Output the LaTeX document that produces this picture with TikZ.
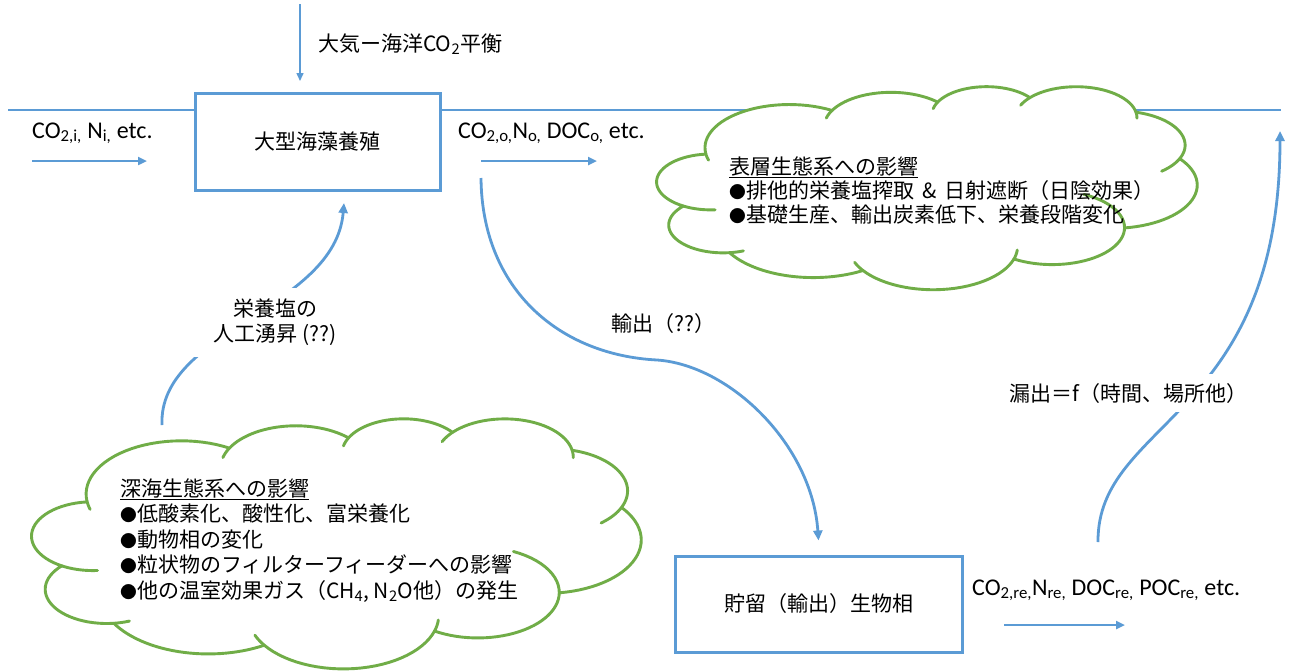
\documentclass[tikz,border=0pt]{standalone}
\usepackage{fontspec}
\setmainfont{Noto Sans CJK JP}
\newfontfamily\latinf{Carlito}
\usetikzlibrary{arrows.meta}
\definecolor{oblue}{HTML}{5B9BD5}
\definecolor{ogreen}{HTML}{70AD47}
\newcommand\jpf{\fontsize{21}{25}\selectfont}
\newcommand\latf{\latinf\fontsize{24}{28}\selectfont}
\newcommand\blt{\scalebox{0.8}{●}}
\makeatletter
% ---- Office-style cloud outline, normalised to a 100 x 100 box (y downwards) ----
\newcommand\cl@path{}
\newcommand\cl@hooks{}
\newcommand\clArc[5]{%
  \pgfmathsetmacro\cl@ts{atan2((#2)*sin(#4),(#3)*cos(#4))}%
  \pgfmathsetmacro\cl@te{atan2((#2)*sin((#4)+(#5)),(#3)*cos((#4)+(#5)))}%
  \pgfmathsetmacro\cl@dl{mod((\cl@te)-(\cl@ts)+720,360)}%
  \pgfmathsetmacro\cl@cx{(\cl@x)-(#2)*cos(\cl@ts)}%
  \pgfmathsetmacro\cl@cy{(\cl@y)-(#3)*sin(\cl@ts)}%
  \pgfmathsetmacro\cl@tend{(\cl@ts)+(\cl@dl)}%
  \expandafter\xdef\csname clC#1x\endcsname{\cl@cx}%
  \expandafter\xdef\csname clC#1y\endcsname{\cl@cy}%
  \expandafter\xdef\csname clC#1a\endcsname{#2}%
  \expandafter\xdef\csname clC#1b\endcsname{#3}%
  \edef\cl@seg{ -- plot[domain=\cl@ts:\cl@tend,samples=30,variable=\noexpand\t]({\cl@cx+(#2)*cos(\noexpand\t)},{\cl@cy+(#3)*sin(\noexpand\t)})}%
  \expandafter\g@addto@macro\expandafter\cl@path\expandafter{\cl@seg}%
  \pgfmathsetmacro\cl@nx{(\cl@cx)+(#2)*cos(\cl@tend)}%
  \pgfmathsetmacro\cl@ny{(\cl@cy)+(#3)*sin(\cl@tend)}%
  \global\let\cl@x\cl@nx \global\let\cl@y\cl@ny
}
\newcommand\clHook[3]{%
  \edef\cl@a{\csname clC#1a\endcsname}\edef\cl@b{\csname clC#1b\endcsname}%
  \edef\cl@hx{\csname clC#1x\endcsname}\edef\cl@hy{\csname clC#1y\endcsname}%
  \pgfmathsetmacro\cl@ts{atan2((\cl@a)*sin(#2),(\cl@b)*cos(#2))}%
  \pgfmathsetmacro\cl@te{atan2((\cl@a)*sin((#2)+(#3)),(\cl@b)*cos((#2)+(#3)))}%
  \pgfmathsetmacro\cl@dl{mod((\cl@te)-(\cl@ts)+720,360)}%
  \pgfmathsetmacro\cl@tend{(\cl@ts)+(\cl@dl)}%
  \edef\cl@seg{ plot[domain=\cl@ts:\cl@tend,samples=14,variable=\noexpand\t]({\cl@hx+\cl@a*cos(\noexpand\t)},{\cl@hy+\cl@b*sin(\noexpand\t)})}%
  \expandafter\g@addto@macro\expandafter\cl@hooks\expandafter{\cl@seg}%
}
\gdef\cl@x{9.0278}\gdef\cl@y{33.2639}
\xdef\cl@path{(\cl@x,\cl@y)}
\clArc{1}{15.6319}{21.2731}{-190.4875}{123.7805}
\clArc{2}{12.3449}{16.8218}{-144.1024}{89.9452}
\clArc{3}{10.1042}{13.7616}{-145.8079}{99.7230}
\clArc{4}{11.2431}{15.2662}{-130.9861}{117.2417}
\clArc{5}{12.3449}{16.8356}{-78.7089}{109.0269}
\clArc{6}{15.6829}{21.3426}{-46.2673}{130.2690}
\clArc{7}{13.3912}{18.2106}{0.6250}{114.0333}
\clArc{8}{15.6296}{21.3310}{22.4516}{115.1726}
\clArc{9}{17.8704}{24.4051}{66.2426}{75.7110}
\clArc{10}{10.0926}{13.6991}{-274.9421}{146.7356}
\clArc{11}{10.0579}{13.7616}{-246.8285}{152.5189}
\clHook{11}{86.7420}{26.4295}
\clHook{10}{73.6105}{11.4475}
\clHook{8}{137.6242}{14.0811}
\clHook{8}{6.4533}{15.9984}
\clHook{7}{-70.2924}{70.9174}
\clHook{5}{30.3180}{27.7515}
\clHook{4}{-13.7443}{14.8661}
\clHook{4}{-149.1815}{18.1954}
\clHook{3}{-163.4943}{17.6864}
\clHook{2}{-161.0}{16.9}
\clHook{1}{157.6544}{11.8582}
\newcommand\drawcloud[4]{%
  \begin{scope}[shift={(#1,#2)},xscale=#3/100,yscale=#4/100]
    \fill[white] \cl@path -- cycle;
    \draw[cloudline] \cl@path -- cycle;
    \draw[cloudline] \cl@hooks;
  \end{scope}}
\makeatother
\tikzset{
  boxnode/.style={draw=oblue, line width=3pt, fill=white, font=\jpf, inner sep=0pt},
  jtext/.style={font=\jpf, inner sep=0pt, anchor=base west},
  ltext/.style={font=\latf, inner sep=0pt, anchor=base west},
  cloudline/.style={draw=ogreen, line width=2.9pt, line cap=round, line join=round},
  sealine/.style={draw=oblue, line width=1.1pt},
  flowthin/.style={draw=oblue, line width=1.5pt, -{Triangle[length=8pt,width=7pt]}},
  flowline/.style={draw=oblue, line width=2.3pt, -{Triangle[length=9pt,width=8pt]}},
  flowcurve/.style={draw=oblue, line width=2.8pt, -{Triangle[length=10pt,width=9pt]}},
}
\begin{document}
\begin{tikzpicture}[x=1pt,y=-1pt]
\useasboundingbox (0,0) rectangle (1298,670);
\fill[white] (0,0) rectangle (1298,670);
% sea surface
\coordinate (sea0) at (8,110);
\coordinate (sea1) at (1281,110);
\draw[sealine] (sea0) -- (sea1);
% clouds
\drawcloud{657}{86}{540}{203}
\drawcloud{32}{418}{609}{250}
% boxes
\node[boxnode, minimum width=245pt, minimum height=97pt] (farm) at (317.5,141.5) {大型海藻養殖};
\node[boxnode, minimum width=287pt, minimum height=96pt] (store) at (818.5,604) {貯留（輸出）生物相};
% atmosphere exchange
\coordinate (atm0) at (300,4);
\coordinate (atm1) at (300,81);
\draw[flowthin] (atm0) -- (atm1);
\node[jtext] (atmlab) at (318,51) {大気ー海洋CO\textsubscript{2}平衡};
% inflow / outflow
\coordinate (in0) at (32,161);
\coordinate (in1) at (147,161);
\draw[flowline] (in0) -- (in1);
\node[ltext] (inlab) at (32,138) {CO\textsubscript{2,i,} N\textsubscript{i,} etc.};
\coordinate (out0) at (481,161);
\coordinate (out1) at (597,161);
\draw[flowline] (out0) -- (out1);
\node[ltext] (outlab) at (458,138) {CO\textsubscript{2,o,}N\textsubscript{o,} DOC\textsubscript{o,} etc.};
\coordinate (re0) at (1004,625);
\coordinate (re1) at (1125,625);
\draw[flowline] (re0) -- (re1);
\node[ltext] (relab) at (972,595) {CO\textsubscript{2,re,}N\textsubscript{re,} DOC\textsubscript{re,} POC\textsubscript{re,} etc.};
% export
\coordinate (exp0) at (481,178);
\coordinate (exp1) at ([yshift=14pt]store.north);
\draw[flowcurve] (exp0) .. controls (482,290) and (560,355) .. (657,360)
  .. controls (730,365) and (812,445) .. (exp1);
\node[jtext] (explab) at (611,331) {輸出（??）};
% upwelling
\coordinate (up0) at (162,425);
\coordinate (up1) at (344,203);
\draw[flowcurve] (up0) .. controls (158,330) and (335,310) .. (up1);
\node[font=\jpf, fill=white, align=center, minimum width=170pt, minimum height=69pt, inner sep=0pt] (uplab) at (275,322) {栄養塩の\\人工湧昇 (??)};
% leakage
\coordinate (lk0) at (1098,542);
\coordinate (lk1) at (1280,131);
\draw[flowcurve] (lk0) .. controls (1097,420) and (1280,420) .. (lk1);
\node[jtext, fill=white, inner xsep=6pt, inner ysep=9pt] (lklab) at (1003,401) {漏出＝f（時間、場所他）};
% cloud texts
\node[jtext] (s0) at (729,174) {\underline{表層生態系への影響}};
\node[jtext] (s1) at (729,198) {\blt 排他的栄養塩搾取 \,\&\, 日射遮断（日陰効果）};
\node[jtext] (s2) at (729,222) {\blt 基礎生産、輸出炭素低下、栄養段階変化};
\node[jtext] (d0) at (120,496) {\underline{深海生態系への影響}};
\node[jtext] (d1) at (120,521.5) {\blt 低酸素化、酸性化、富栄養化};
\node[jtext] (d2) at (120,547) {\blt 動物相の変化};
\node[jtext] (d3) at (120,572.5) {\blt 粒状物のフィルターフィーダーへの影響};
\node[jtext] (d4) at (120,598) {\blt 他の温室効果ガス（CH\textsubscript{4}, N\textsubscript{2}O他）の発生};
\end{tikzpicture}
\end{document}
